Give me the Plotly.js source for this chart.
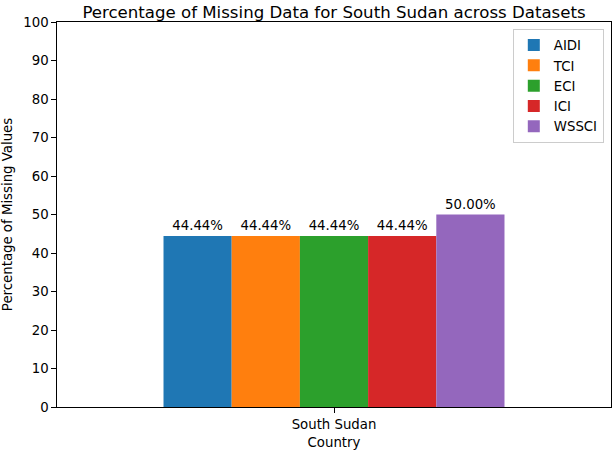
<!DOCTYPE html>
<html>
<head>
<meta charset="utf-8">
<script src="https://cdn.plot.ly/plotly-3.0.1.min.js"></script>
<style>html,body{margin:0;padding:0;background:#fff;}#chart{width:613px;height:450px;}</style>
</head>
<body>
<div id="chart"></div>
<script>
const categories = ["South Sudan"];
const datasets = ["AIDI", "TCI", "ECI", "ICI", "WSSCI"];
const values = [44.44, 44.44, 44.44, 44.44, 50.00];
const colors = ["#1f77b4", "#ff7f0e", "#2ca02c", "#d62728", "#9467bd"];
const yTicks = [0, 10, 20, 30, 40, 50, 60, 70, 80, 90, 100];

const font = "DejaVu Sans, sans-serif";
const traces = datasets.map((name, i) => ({
  type: "bar",
  name: name,
  x: categories,
  y: [values[i]],
  marker: {color: colors[i], line: {width: 0}},
  text: [values[i].toFixed(2) + "%"],
  textposition: "outside",
  textfont: {family: font, size: 13.3, color: "#000"},
  cliponaxis: false,
  hoverinfo: "none"
}));

const layout = {
  width: 613, height: 450,
  margin: {l: 57, r: 2, t: 22, b: 43, pad: 0},
  paper_bgcolor: "#fff", plot_bgcolor: "#fff",
  barmode: "group",
  bargap: 0.3845,
  bargroupgap: 0,
  showlegend: true,
  title: {
    text: "Percentage of Missing Data for South Sudan across Datasets",
    font: {family: font, size: 16.6, color: "#000"},
    x: 0.5, xref: "paper", xanchor: "center",
    y: 1, yref: "paper", yanchor: "bottom",
    pad: {b: 4}
  },
  xaxis: {
    type: "category",
    range: [-0.5, 0.5],
    showline: true, linecolor: "#000", linewidth: 1, mirror: true,
    ticks: "outside", ticklen: 4.7, tickwidth: 1, tickcolor: "#000",
    showgrid: false, zeroline: false,
    tickfont: {family: font, size: 13.3, color: "#000"},
    title: {text: "Country", font: {family: font, size: 13.3, color: "#000"}, standoff: 7},
    automargin: true,
    fixedrange: true
  },
  yaxis: {
    range: [0, 100],
    tickvals: yTicks,
    ticktext: yTicks.map(String),
    showline: true, linecolor: "#000", linewidth: 1, mirror: true,
    ticks: "outside", ticklen: 4.7, tickwidth: 1, tickcolor: "#000",
    showgrid: false, zeroline: false,
    tickfont: {family: font, size: 13.3, color: "#000"},
    title: {text: "Percentage of Missing Values", font: {family: font, size: 13.3, color: "#000"}, standoff: 7},
    fixedrange: true
  },
  legend: {
    x: 0.987, xanchor: "right", xref: "paper",
    y: 0.982, yanchor: "top", yref: "paper",
    bgcolor: "rgba(255,255,255,0.8)",
    bordercolor: "#cccccc", borderwidth: 1,
    font: {family: font, size: 13.3, color: "#000"},
    traceorder: "normal",
    tracegroupgap: 0,
    itemwidth: 30
  }
};

Plotly.newPlot("chart", traces, layout, {displayModeBar: false, staticPlot: true});
</script>
</body>
</html>
